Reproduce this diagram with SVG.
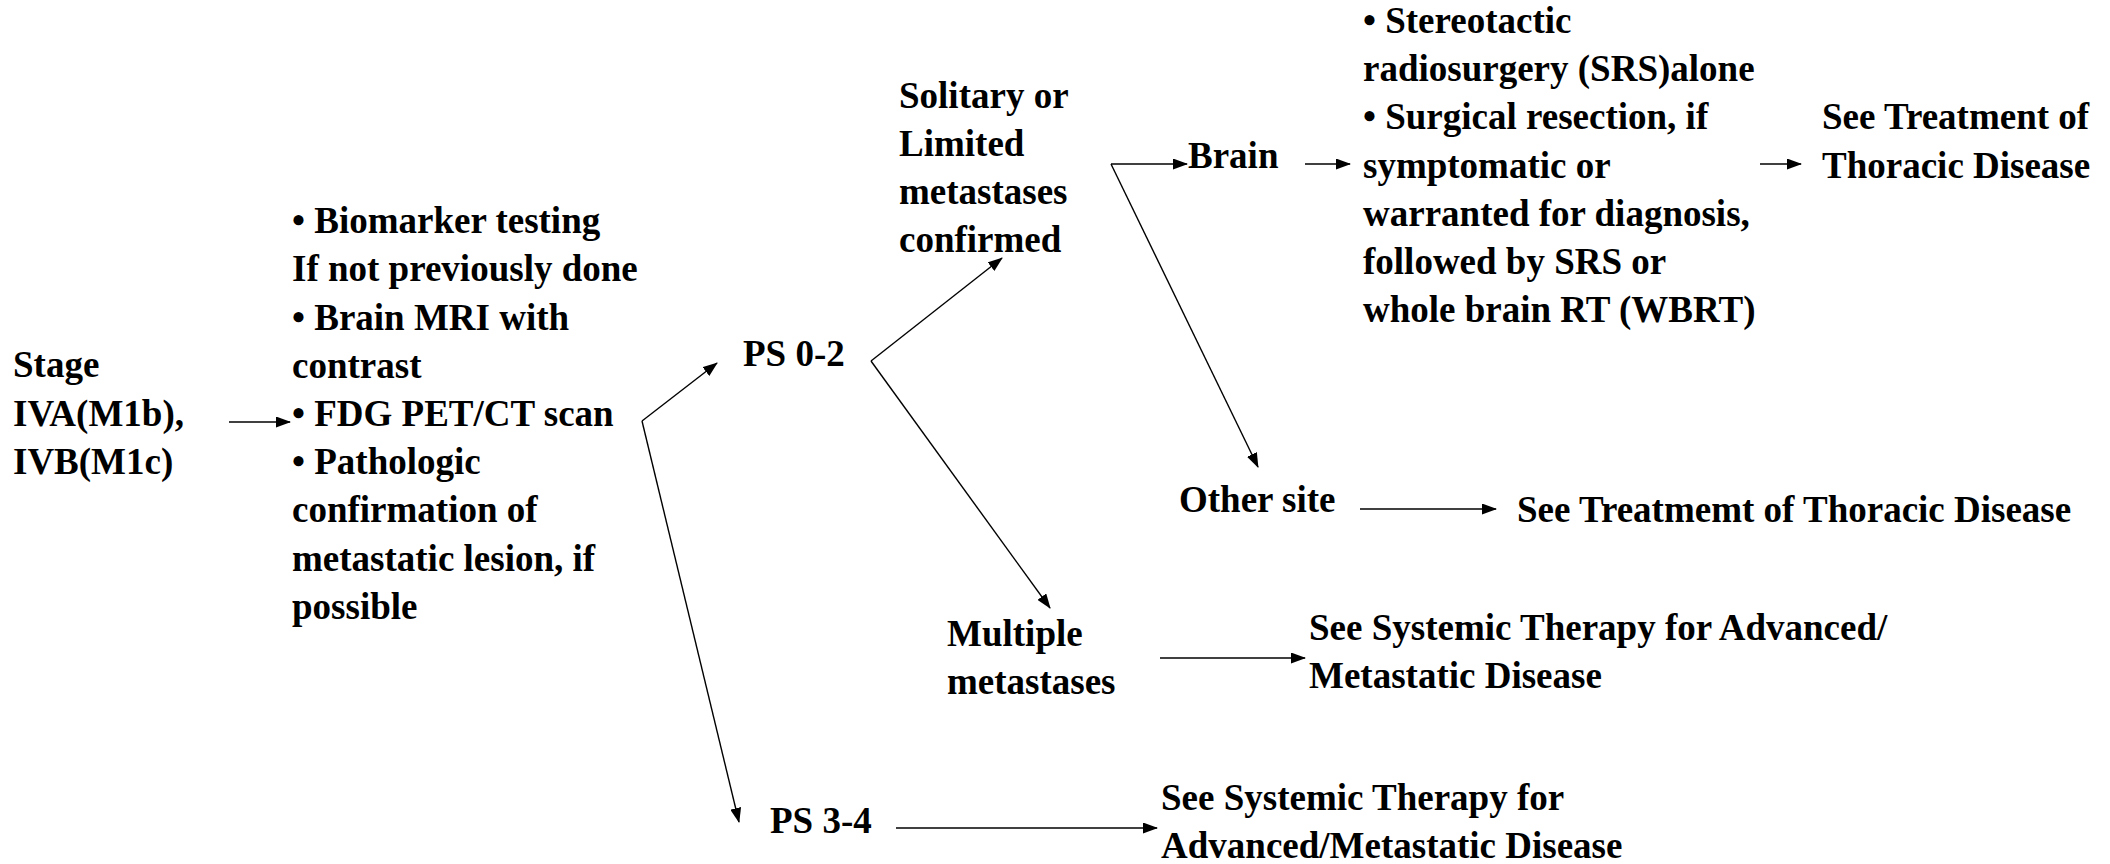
<svg xmlns="http://www.w3.org/2000/svg" width="2110" height="864" viewBox="0 0 2110 864">
  <style>
    text { font-family: "Liberation Serif", "Times New Roman", serif; font-weight: bold; font-size: 37px; fill: #000; }
    .edge { stroke: #000; stroke-width: 1.4; fill: none; marker-end: url(#head); }
  </style>
  <defs>
    <marker id="head" markerUnits="userSpaceOnUse" markerWidth="15" markerHeight="11" refX="14" refY="5.5" orient="auto">
      <path d="M0,0 L15,5.5 L0,11 Z" fill="#000"/>
    </marker>
  </defs>
  <rect width="2110" height="864" fill="#fff"/>

  <g id="stage">
    <text x="13" y="377">Stage</text>
    <text x="13" y="426">IVA(M1b),</text>
    <text x="13" y="474">IVB(M1c)</text>
  </g>

  <g id="workup">
    <text x="292" y="233">• Biomarker testing</text>
    <text x="292" y="281">If not previously done</text>
    <text x="292" y="330">• Brain MRI with</text>
    <text x="292" y="378">contrast</text>
    <text x="292" y="426">• FDG PET/CT scan</text>
    <text x="292" y="474">• Pathologic</text>
    <text x="292" y="522">confirmation of</text>
    <text x="292" y="571">metastatic lesion, if</text>
    <text x="292" y="619">possible</text>
  </g>

  <g id="ps02"><text x="743" y="366">PS 0-2</text></g>
  <g id="ps34"><text x="770" y="833">PS 3-4</text></g>

  <g id="limited">
    <text x="899" y="108">Solitary or</text>
    <text x="899" y="156">Limited</text>
    <text x="899" y="204">metastases</text>
    <text x="899" y="252">confirmed</text>
  </g>

  <g id="brain"><text x="1188" y="168">Brain</text></g>
  <g id="other-site"><text x="1179" y="512">Other site</text></g>

  <g id="multiple">
    <text x="947" y="646">Multiple</text>
    <text x="947" y="694">metastases</text>
  </g>

  <g id="brain-tx">
    <text x="1363" y="33">• Stereotactic</text>
    <text x="1363" y="81">radiosurgery (SRS)alone</text>
    <text x="1363" y="129">• Surgical resection, if</text>
    <text x="1363" y="178">symptomatic or</text>
    <text x="1363" y="226">warranted for diagnosis,</text>
    <text x="1363" y="274">followed by SRS or</text>
    <text x="1363" y="322">whole brain RT (WBRT)</text>
  </g>

  <g id="thoracic-1">
    <text x="1822" y="129">See Treatment of</text>
    <text x="1822" y="178">Thoracic Disease</text>
  </g>

  <g id="thoracic-2"><text x="1517" y="522">See Treatmemt of Thoracic Disease</text></g>

  <g id="systemic-1">
    <text x="1309" y="640">See Systemic Therapy for Advanced/</text>
    <text x="1309" y="688">Metastatic Disease</text>
  </g>

  <g id="systemic-2">
    <text x="1161" y="810">See Systemic Therapy for</text>
    <text x="1161" y="858">Advanced/Metastatic Disease</text>
  </g>

  <g id="connectors">
    <line class="edge" x1="229" y1="422" x2="290" y2="422"/>
    <!-- work-up splits by performance status -->
    <line class="edge" x1="642" y1="421" x2="717" y2="363"/>
    <line class="edge" x1="642" y1="421" x2="739" y2="822"/>
    <!-- PS 0-2 splits by extent of metastases -->
    <line class="edge" x1="871" y1="361" x2="1002" y2="258"/>
    <line class="edge" x1="871" y1="361" x2="1050" y2="608"/>
    <!-- limited metastases: brain or other site -->
    <line class="edge" x1="1111" y1="164" x2="1187" y2="164"/>
    <line class="edge" x1="1111" y1="164" x2="1258" y2="467"/>
    <line class="edge" x1="1305" y1="164" x2="1350" y2="164"/>
    <line class="edge" x1="1760" y1="164" x2="1801" y2="164"/>
    <line class="edge" x1="1360" y1="509" x2="1496" y2="509"/>
    <line class="edge" x1="1160" y1="658" x2="1305" y2="658"/>
    <line class="edge" x1="896" y1="828" x2="1157" y2="828"/>
  </g>
</svg>
